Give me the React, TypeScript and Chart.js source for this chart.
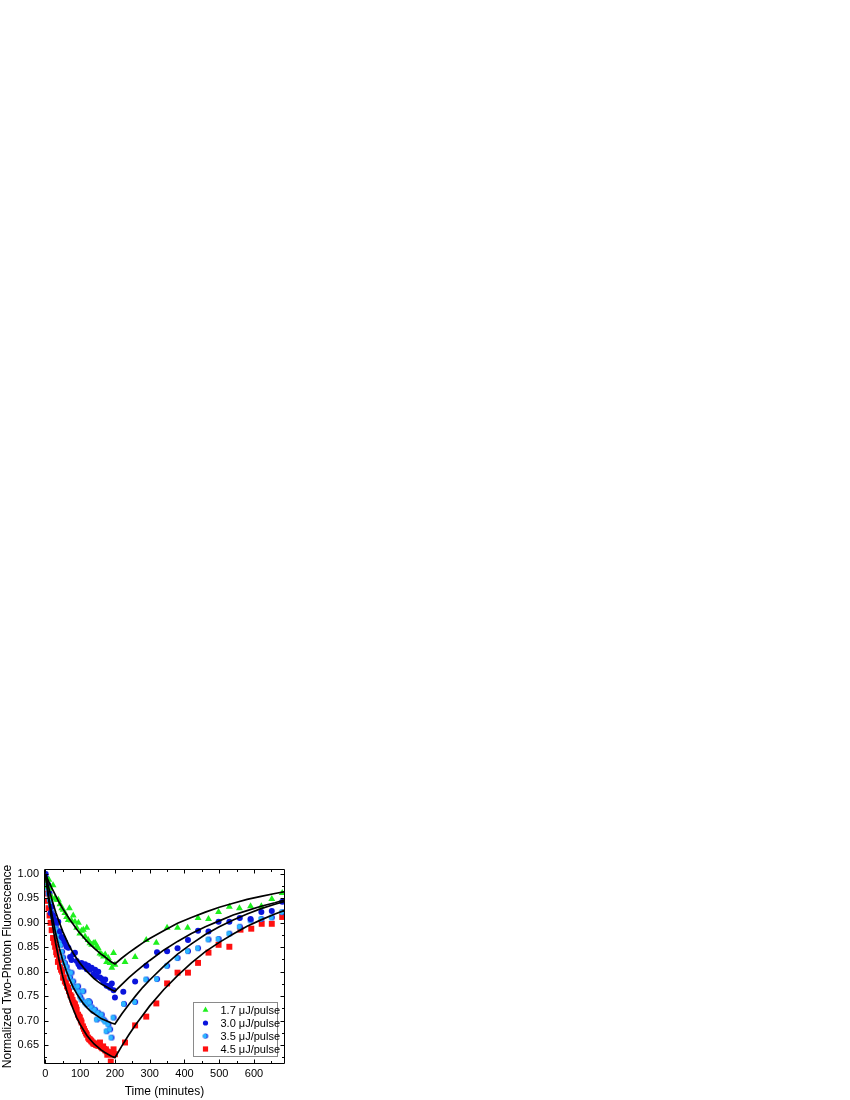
import React, { useEffect, useRef } from "react";
import { Chart, registerables } from "chart.js";

Chart.register(...registerables);

const seriesLabels = ["1.7 μJ/pulse", "3.0 μJ/pulse", "3.5 μJ/pulse", "4.5 μJ/pulse"];
const seriesColors = ["#1ef01e", "#0a14dc", "#2cb8ff", "#ff1010"];

const green17: [number, number][] = [
  [0, 0.985], [5, 0.975], [10, 0.988], [14, 0.97], [18, 0.953], [22, 0.977], [27, 0.95], [32, 0.947],
  [37, 0.947], [42, 0.938], [47, 0.93], [51, 0.927], [56, 0.92], [61, 0.912], [66, 0.906], [69, 0.93],
  [75, 0.905], [80, 0.915], [85, 0.902], [90, 0.89], [95, 0.9], [99, 0.878], [104, 0.884], [109, 0.886],
  [114, 0.872], [119, 0.89], [123, 0.865], [128, 0.858], [133, 0.855], [138, 0.858], [143, 0.859],
  [148, 0.852], [152, 0.848], [157, 0.837], [162, 0.835], [167, 0.831], [172, 0.835], [176, 0.82],
  [181, 0.828], [186, 0.818], [191, 0.808], [196, 0.838], [200, 0.814],
  [229, 0.82], [258, 0.83], [290, 0.865], [319, 0.859], [350, 0.89], [380, 0.89], [409, 0.89],
  [439, 0.91], [469, 0.908], [498, 0.922], [529, 0.933], [558, 0.93], [590, 0.934], [621, 0.934],
  [651, 0.949], [681, 0.961],
];

const blue30: [number, number][] = [
  [0, 1.0], [4, 0.99], [8, 0.978], [12, 0.96], [15, 0.92], [18, 0.933], [22, 0.915], [27, 0.906],
  [32, 0.9], [37, 0.902], [42, 0.882], [47, 0.871], [51, 0.868], [56, 0.861], [61, 0.851], [66, 0.849],
  [71, 0.83], [75, 0.824], [80, 0.835], [85, 0.839], [90, 0.822], [95, 0.815], [99, 0.81], [104, 0.818],
  [109, 0.81], [114, 0.815], [119, 0.805], [123, 0.812], [128, 0.804], [133, 0.808], [138, 0.794],
  [143, 0.804], [148, 0.79], [152, 0.8], [157, 0.788], [162, 0.785], [167, 0.778], [172, 0.784],
  [176, 0.771], [181, 0.77], [186, 0.767], [191, 0.776], [196, 0.762], [200, 0.747],
  [224, 0.759], [258, 0.78], [290, 0.812], [321, 0.84], [350, 0.842], [380, 0.848], [410, 0.865],
  [439, 0.884], [469, 0.882], [498, 0.902], [529, 0.902], [559, 0.91], [590, 0.908], [621, 0.922],
  [651, 0.924], [681, 0.943],
];

const cyan35: [number, number][] = [
  [0, 1.0], [3, 0.988], [6, 0.972], [9, 0.96], [13, 0.947], [16, 0.937], [18, 0.922], [22, 0.912],
  [27, 0.902], [30, 0.896], [33, 0.886], [37, 0.876], [42, 0.865], [45, 0.855], [48, 0.841], [51, 0.829],
  [56, 0.818], [61, 0.81], [66, 0.8], [71, 0.788], [75, 0.798], [80, 0.78], [83, 0.769], [90, 0.767],
  [94, 0.77], [97, 0.759], [100, 0.749], [104, 0.743], [109, 0.76], [114, 0.737], [119, 0.733],
  [124, 0.74], [128, 0.737], [133, 0.727], [138, 0.72], [143, 0.722], [148, 0.702], [152, 0.716],
  [157, 0.706], [162, 0.712], [167, 0.702], [172, 0.698], [176, 0.678], [181, 0.692], [186, 0.682],
  [190, 0.665], [196, 0.706],
  [226, 0.734], [258, 0.738], [290, 0.784], [321, 0.785], [350, 0.812], [380, 0.828], [410, 0.842],
  [439, 0.848], [469, 0.866], [498, 0.867], [529, 0.878], [559, 0.892], [590, 0.905], [621, 0.908],
  [651, 0.911], [681, 0.922],
];

const red45: [number, number][] = [
  [0, 0.99], [3, 0.96], [6, 0.945], [9, 0.93], [12, 0.915], [15, 0.9], [18, 0.885], [22, 0.869],
  [25, 0.86], [28, 0.851], [31, 0.84], [33, 0.835], [36, 0.82], [39, 0.824], [42, 0.81], [45, 0.804],
  [48, 0.8], [51, 0.788], [53, 0.788], [56, 0.78], [59, 0.777], [62, 0.77], [65, 0.767], [68, 0.76],
  [72, 0.752], [75, 0.749], [78, 0.742], [80, 0.737], [83, 0.735], [85, 0.733], [88, 0.727], [90, 0.722],
  [94, 0.712], [97, 0.708], [99, 0.706], [102, 0.7], [104, 0.696], [108, 0.688], [111, 0.683],
  [114, 0.678], [117, 0.674], [119, 0.671], [123, 0.665], [126, 0.662], [128, 0.661], [131, 0.659],
  [133, 0.657], [136, 0.655], [138, 0.653], [141, 0.652], [143, 0.653], [146, 0.65], [148, 0.651],
  [150, 0.649], [152, 0.649], [155, 0.648], [157, 0.655], [160, 0.646], [162, 0.645], [164, 0.643],
  [166, 0.647], [169, 0.642], [172, 0.639], [174, 0.641], [176, 0.637], [178, 0.63], [180, 0.635],
  [183, 0.631], [186, 0.635], [188, 0.616], [191, 0.633], [194, 0.63], [196, 0.641], [200, 0.631],
  [229, 0.655], [258, 0.69], [290, 0.708], [319, 0.735], [350, 0.776], [380, 0.798], [410, 0.798],
  [439, 0.818], [469, 0.839], [498, 0.855], [529, 0.851], [561, 0.886], [592, 0.888], [622, 0.898],
  [651, 0.898], [681, 0.912],
];

const fitTime = [
  0, 10, 20, 30, 40, 50, 60, 70, 80, 90, 100, 110, 120, 130, 140, 150, 160, 170, 180, 190, 200,
  220, 240, 260, 280, 300, 340, 380, 420, 460, 500, 540, 580, 620, 660, 690,
];
const fitGreen = [
  1.0, 0.984, 0.969, 0.955, 0.941, 0.929, 0.918, 0.907, 0.897, 0.887, 0.878, 0.87, 0.862, 0.855, 0.848,
  0.842, 0.836, 0.831, 0.825, 0.82, 0.816,
  0.828, 0.839, 0.849, 0.859, 0.868, 0.884, 0.899, 0.911, 0.922, 0.932, 0.94, 0.948, 0.954, 0.96, 0.964,
];
const fitBlue = [
  1.0, 0.971, 0.944, 0.921, 0.901, 0.882, 0.866, 0.851, 0.838, 0.827, 0.817, 0.808, 0.8, 0.793, 0.786,
  0.78, 0.775, 0.771, 0.767, 0.763, 0.76,
  0.774, 0.788, 0.8, 0.812, 0.823, 0.844, 0.862, 0.878, 0.892, 0.904, 0.916, 0.925, 0.934, 0.941, 0.947,
];
const fitCyan = [
  1.0, 0.952, 0.912, 0.877, 0.848, 0.823, 0.802, 0.783, 0.768, 0.755, 0.744, 0.734, 0.726, 0.719, 0.714,
  0.709, 0.704, 0.701, 0.698, 0.695, 0.693,
  0.714, 0.733, 0.751, 0.768, 0.783, 0.811, 0.836, 0.857, 0.876, 0.892, 0.906, 0.918, 0.929, 0.938, 0.944,
];
const fitRed = [
  1.0, 0.944, 0.897, 0.856, 0.821, 0.79, 0.764, 0.742, 0.723, 0.706, 0.692, 0.68, 0.669, 0.66, 0.652,
  0.646, 0.64, 0.635, 0.631, 0.627, 0.624,
  0.648, 0.671, 0.692, 0.711, 0.73, 0.763, 0.792, 0.818, 0.841, 0.86, 0.877, 0.893, 0.906, 0.918, 0.926,
];

const xTickValues = [0, 100, 200, 300, 400, 500, 600];
const yTickValues = [0.65, 0.7, 0.75, 0.8, 0.85, 0.9, 0.95, 1.0];
const xAxisTitle = "Time (minutes)";
const yAxisTitle = "Normalized Two-Photon Fluorescence";

const FONT = '"Liberation Sans", Arial, Helvetica, sans-serif';

function makeHalfCircle(r: number, light: string, dark: string): HTMLCanvasElement {
  const s = Math.ceil(r * 2) + 2;
  const c = document.createElement("canvas");
  c.width = s;
  c.height = s;
  const g = c.getContext("2d")!;
  const cx = s / 2;
  g.beginPath();
  g.arc(cx, cx, r, 0, Math.PI * 2);
  g.fillStyle = dark;
  g.fill();
  g.save();
  g.beginPath();
  g.arc(cx, cx, r, 0, Math.PI * 2);
  g.clip();
  g.beginPath();
  g.arc(cx - 1.1, cx, r, 0, Math.PI * 2);
  g.fillStyle = light;
  g.fill();
  g.restore();
  return c;
}

function drawMarker(ctx: CanvasRenderingContext2D, kind: number, x: number, y: number, img: HTMLCanvasElement) {
  ctx.save();
  if (kind === 0) {
    const r = 3.4;
    ctx.beginPath();
    ctx.moveTo(x, y - r);
    ctx.lineTo(x + r * 0.866, y + r * 0.5);
    ctx.lineTo(x - r * 0.866, y + r * 0.5);
    ctx.closePath();
    ctx.fillStyle = seriesColors[0];
    ctx.fill();
  } else if (kind === 1) {
    ctx.beginPath();
    ctx.arc(x, y, 2.6, 0, Math.PI * 2);
    ctx.fillStyle = seriesColors[1];
    ctx.fill();
  } else if (kind === 2) {
    ctx.drawImage(img, x - img.width / 2, y - img.height / 2);
  } else {
    ctx.fillStyle = seriesColors[3];
    ctx.fillRect(x - 2.6, y - 2.6, 5.2, 5.2);
  }
  ctx.restore();
}

export default function App() {
  const canvasRef = useRef<HTMLCanvasElement | null>(null);

  useEffect(() => {
    if (!canvasRef.current) return;
    const cyanImg = makeHalfCircle(3, seriesColors[2], seriesColors[1]);
    const legendCyan = makeHalfCircle(2.6, seriesColors[2], seriesColors[1]);
    const toXY = (arr: [number, number][]) => arr.map(([x, y]) => ({ x, y }));
    const fitXY = (vals: number[]) => fitTime.map((t, i) => ({ x: t, y: vals[i] }));

    const framePlugin = {
      id: "frameTicks",
      afterDraw(chart: any) {
        const { ctx, chartArea } = chart;
        const { left, right, top, bottom } = chartArea;
        const xs = chart.scales.x;
        const ys = chart.scales.y;
        ctx.save();
        ctx.strokeStyle = "#000";
        ctx.lineWidth = 1;
        const L = Math.round(left) + 0.5;
        const R = Math.round(right) - 0.5;
        const T = Math.round(top) + 0.5;
        const B = Math.round(bottom) - 0.5;
        ctx.beginPath();
        ctx.rect(L, T, R - L, B - T);
        ctx.stroke();
        ctx.beginPath();
        for (let k = 0; k <= 13; k++) {
          const v = k * 50;
          const px = Math.round(xs.getPixelForValue(v)) + 0.5;
          if (px <= L || px >= R) continue;
          const len = k % 2 === 0 ? 4 : 2.5;
          ctx.moveTo(px, B);
          ctx.lineTo(px, B - len);
          ctx.moveTo(px, T);
          ctx.lineTo(px, T + len);
        }
        for (let k = 25; k <= 40; k++) {
          const v = k * 0.025;
          const py = Math.round(ys.getPixelForValue(v)) + 0.5;
          if (py <= T || py >= B) continue;
          const len = k % 2 === 0 ? 4 : 2.5;
          ctx.moveTo(L, py);
          ctx.lineTo(L + len, py);
          ctx.moveTo(R, py);
          ctx.lineTo(R - len, py);
        }
        ctx.stroke();

        // legend inside the plot
        const w = 84;
        const h = 54;
        const x0 = Math.round(right - 8 - w) + 0.5;
        const y0 = Math.round(bottom - 8 - h) + 0.5;
        ctx.fillStyle = "#fff";
        ctx.fillRect(x0, y0, w, h);
        ctx.strokeStyle = "#8a8a8a";
        ctx.lineWidth = 1;
        ctx.strokeRect(x0, y0, w, h);
        ctx.font = `11px ${FONT}`;
        ctx.textBaseline = "middle";
        ctx.textAlign = "left";
        ctx.fillStyle = "#000";
        seriesLabels.forEach((lab, i) => {
          const cy = y0 + 7.5 + i * 13;
          drawMarker(ctx, i, x0 + 12, cy, legendCyan);
          ctx.fillText(lab, x0 + 27, cy + 0.5);
        });
        ctx.restore();
      },
    };

    const pointDs = (label: string, data: any[], color: string, style: any, radius: number) => ({
      type: "scatter" as const,
      label,
      data,
      showLine: false,
      pointStyle: style,
      pointRadius: radius,
      pointHoverRadius: radius,
      pointBackgroundColor: color,
      pointBorderColor: color,
      pointBorderWidth: 0,
      order: 2,
    });
    const lineDs = (label: string, data: any[]) => ({
      type: "scatter" as const,
      label,
      data,
      showLine: true,
      borderColor: "#000",
      borderWidth: 1.7,
      pointRadius: 0,
      tension: 0,
      order: 1,
    });

    const chart = new Chart(canvasRef.current, {
      type: "scatter",
      data: {
        datasets: [
          lineDs("fit 1.7", fitXY(fitGreen)),
          lineDs("fit 3.0", fitXY(fitBlue)),
          lineDs("fit 3.5", fitXY(fitCyan)),
          lineDs("fit 4.5", fitXY(fitRed)),
          pointDs(seriesLabels[0], toXY(green17), seriesColors[0], "triangle", 4),
          pointDs(seriesLabels[1], toXY(blue30), seriesColors[1], "circle", 3),
          pointDs(seriesLabels[2], toXY(cyan35), seriesColors[2], cyanImg, 3),
          pointDs(seriesLabels[3], toXY(red45), seriesColors[3], "rect", 4.2),
        ] as any,
      },
      options: {
        animation: false,
        responsive: true,
        maintainAspectRatio: false,
        layout: { padding: { top: 14, right: 5, left: 0, bottom: 0 } },
        plugins: {
          legend: { display: false },
          tooltip: { enabled: false },
        },
        scales: {
          x: {
            type: "linear",
            min: -4,
            max: 689,
            grid: { display: false, drawTicks: false },
            border: { display: false },
            afterBuildTicks: (s: any) => {
              s.ticks = xTickValues.map((v) => ({ value: v }));
            },
            afterFit: (s: any) => {
              s.height = 36;
            },
            ticks: {
              autoSkip: false,
              maxRotation: 0,
              padding: 3,
              color: "#000",
              font: { family: FONT, size: 11 },
              callback: (v: any) => String(v),
            },
            title: {
              display: true,
              text: xAxisTitle,
              color: "#000",
              font: { family: FONT, size: 12 },
              padding: { top: 0, bottom: 1 },
            },
          },
          y: {
            type: "linear",
            min: 0.611,
            max: 1.0102,
            grid: { display: false, drawTicks: false },
            border: { display: false },
            afterBuildTicks: (s: any) => {
              s.ticks = yTickValues.map((v) => ({ value: v }));
            },
            afterFit: (s: any) => {
              s.width = 44;
            },
            ticks: {
              autoSkip: false,
              padding: 5,
              color: "#000",
              font: { family: FONT, size: 11 },
              callback: (v: any) => Number(v).toFixed(2),
            },
            title: {
              display: true,
              text: yAxisTitle,
              color: "#000",
              font: { family: FONT, size: 12 },
              padding: { top: 0, bottom: 0 },
            },
          },
        },
      },
      plugins: [framePlugin],
    });
    return () => chart.destroy();
  }, []);

  return (
    <div style={{ position: "absolute", left: 0, top: 855, width: 290, height: 245 }}>
      <canvas ref={canvasRef} />
    </div>
  );
}
